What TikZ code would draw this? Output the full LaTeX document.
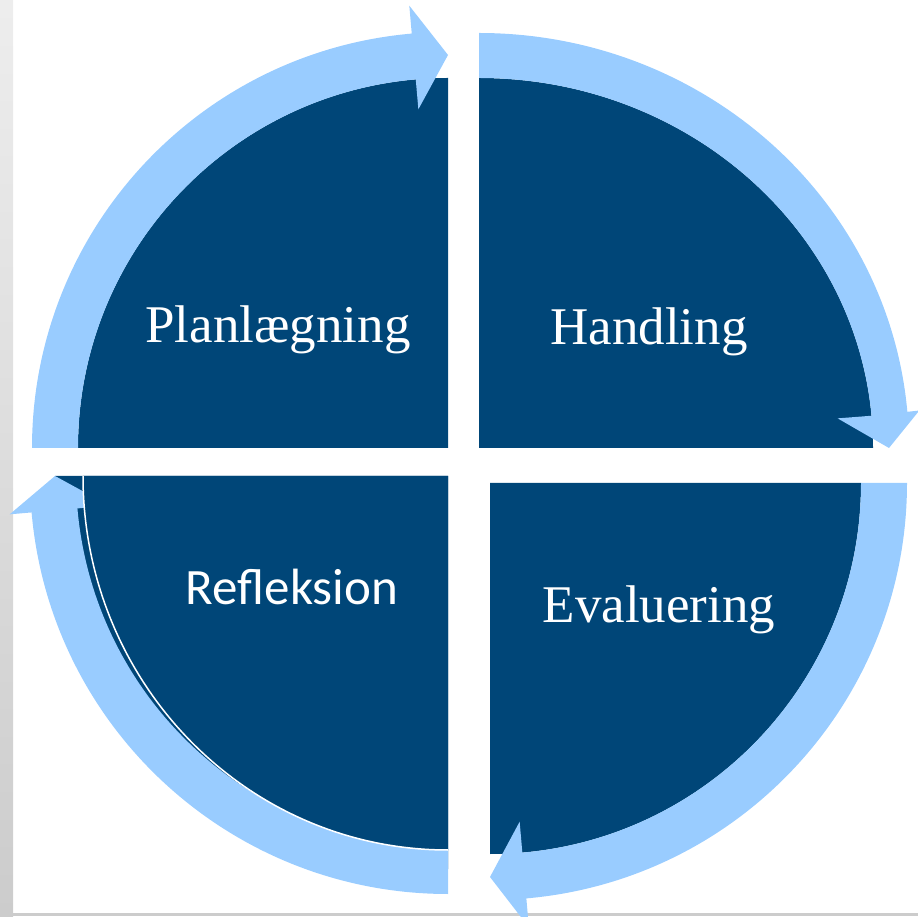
\documentclass[tikz,border=0pt]{standalone}
\usepackage{fontspec}
\newfontfamily\timesface{Liberation Serif}
\newfontfamily\calibriface{Carlito}
\definecolor{quadblue}{RGB}{0,70,120}
\definecolor{ringblue}{RGB}{153,204,255}
\tikzset{
  quad/.style={fill=quadblue},
  ring/.style={fill=ringblue},
  serifword/.style={text=white, anchor=base, font=\timesface\fontsize{53}{60}\selectfont},
  sansword/.style={text=white, anchor=base, font=\calibriface\fontsize{51}{58}\selectfont}
}
\begin{document}
\begin{tikzpicture}[x=1pt, y=1pt]
    \useasboundingbox (0,0) rectangle (918,916);
    % grauer Rand links und unten
    \shade[top color=black!7, bottom color=black!20] (0,0) rectangle (13,916);
    \fill[black!20] (0,0) rectangle (918,3);

    % Planlaegning (oben links)
    \fill[quad] (448,468) -- +(180:370) arc[start angle=180, end angle=90, radius=370] -- cycle;
    \fill[ring, shift={(448,468)}] (180:370) arc[start angle=180, end angle=95, radius=370]
        -- (95:340) -- (90:393) -- (95:444) -- (95:416)
        arc[start angle=95, end angle=180, radius=416] -- cycle;

    % Handling (oben rechts)
    \fill[quad] (479,468) -- +(90:394 and 370) arc[start angle=90, end angle=0, x radius=394, y radius=370] -- cycle;
    \fill[ring, shift={(479,468)}] (90:394 and 370) arc[start angle=90, end angle=5, x radius=394, y radius=370]
        -- (5:360 and 340) -- (0:410 and 393) -- (5:442 and 430) -- (5:430 and 415)
        arc[start angle=5, end angle=90, x radius=430, y radius=415] -- cycle;

    % Evaluering (unten rechts)
    \fill[quad] (490,433) -- +(0:371) arc[start angle=0, end angle=-90, radius=371] -- cycle;
    \fill[ring, shift={(490,433)}] (0:371) arc[start angle=0, end angle=-85, radius=371]
        -- (-85:340) -- (-90:394) -- (-85:446) -- (-85:417)
        arc[start angle=-85, end angle=0, radius=417] -- cycle;

    % Refleksion (unten links)
    \fill[quad] (448,440) -- +(180:393) arc[start angle=180, end angle=270, radius=393] -- cycle;
    \fill[ring, shift={(448,440)}] (270:372) arc[start angle=270, end angle=185, radius=372]
        -- (185:340) -- (180:393) -- (185:440) -- (185:418)
        arc[start angle=185, end angle=270, radius=418] -- cycle;
    \fill[quad] (448,440) -- +(180:365 and 374) arc[start angle=180, end angle=270, x radius=365, y radius=374] -- cycle;
    \draw[white, line width=1.5pt] (448,440) ++(180:365 and 374) arc[start angle=180, end angle=270, x radius=365, y radius=374];

    \node[serifword] (plan) at (278,573) {Planlægning};
    \node[serifword] (hand) at (649,571) {Handling};
    \node[serifword] (eval) at (659,293) {Evaluering};
    \node[sansword] (refl) at (292,311) {Refleksion};
\end{tikzpicture}
\end{document}
